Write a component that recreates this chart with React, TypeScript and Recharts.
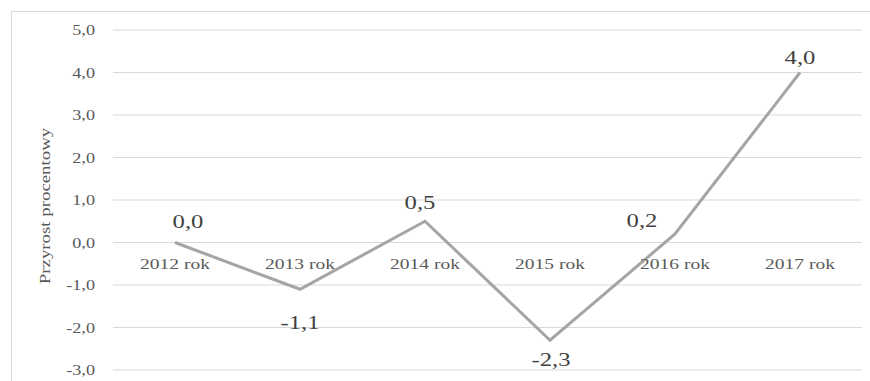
import { LineChart, Line, XAxis, YAxis, CartesianGrid } from 'recharts';

const categories = ['2012 rok', '2013 rok', '2014 rok', '2015 rok', '2016 rok', '2017 rok'];
const growth = [0.0, -1.1, 0.5, -2.3, 0.2, 4.0];
const yTicks = [-3, -2, -1, 0, 1, 2, 3, 4, 5];
const yAxisTitle = 'Przyrost procentowy';

const data = categories.map((year, i) => ({ year, value: growth[i] }));

const W = 870;
const H = 381;
const MARGIN = { top: 30, right: 8, bottom: 10, left: 0 };
const X_AXIS_H = 1;
const Y_MIN = -3;
const Y_MAX = 5;
const PLOT_H = H - MARGIN.top - MARGIN.bottom - X_AXIS_H;
// category labels sit just under the zero line, like in Excel
const ZERO_Y = MARGIN.top + ((Y_MAX - 0) / (Y_MAX - Y_MIN)) * PLOT_H;

const FONT = '"Liberation Serif", "Times New Roman", serif';
const SX = 1.3; // the source font is rendered wide

// per-label nudges (Excel placed them by hand-ish)
const labelNudge = [
  { dx: 13, dy: -15 },
  { dx: 0, dy: 40 },
  { dx: -5, dy: -12 },
  { dx: 1, dy: 26 },
  { dx: -33, dy: -7 },
  { dx: 0, dy: -9 },
];

const fmt = (v: number) => v.toFixed(1).replace('.', ',');

function WideText({ x, y, size, fill, anchor = 'middle', rotate, children }: any) {
  const t = `translate(${x} ${y})${rotate ? ` rotate(${rotate})` : ''} scale(${SX} 1)`;
  return (
    <text transform={t} textAnchor={anchor} fontFamily={FONT} fontSize={size} fill={fill}>
      {children}
    </text>
  );
}

function YTick(props: any) {
  const { x, y, payload } = props;
  return (
    <WideText x={x} y={y + 5} size={14} fill="#595959" anchor="end">
      {fmt(payload.value)}
    </WideText>
  );
}

function XTick(props: any) {
  const { x, payload } = props;
  return (
    <WideText x={x} y={ZERO_Y + 26} size={15} fill="#595959">
      {payload.value}
    </WideText>
  );
}

function PointLabel(props: any) {
  const { x, y, value, index } = props;
  const n = labelNudge[index] || { dx: 0, dy: -12 };
  return (
    <WideText x={x + n.dx} y={y + n.dy} size={19} fill="#404040">
      {fmt(value)}
    </WideText>
  );
}

export default function App() {
  return (
    <div style={{ position: 'absolute', left: 0, top: 0, width: W, height: H, overflow: 'hidden', background: '#fff' }}>
      <div
        style={{
          position: 'absolute',
          left: 11,
          top: 11,
          width: W + 20,
          height: H + 20,
          border: '1px solid #d9d9d9',
        }}
      />
      <div style={{ position: 'absolute', left: 0, top: 0 }}>
        <LineChart width={W} height={H} data={data} margin={MARGIN}>
          <CartesianGrid vertical={false} stroke="#d9d9d9" strokeWidth={1} />
          <XAxis
            dataKey="year"
            height={X_AXIS_H}
            axisLine={false}
            tickLine={false}
            padding={{ left: 62, right: 62 }}
            interval={0}
            tick={(p: any) => <XTick {...p} />}
          />
          <YAxis
            width={113}
            domain={[Y_MIN, Y_MAX]}
            ticks={yTicks}
            interval={0}
            axisLine={false}
            tickLine={false}
            tickSize={0}
            tickMargin={18}
            tick={(p: any) => <YTick {...p} />}
            label={() => (
              <WideText x={50} y={MARGIN.top + PLOT_H / 2 + 6} size={14.5} fill="#595959" rotate={-90}>
                {yAxisTitle}
              </WideText>
            )}
          />
          <Line
            type="linear"
            dataKey="value"
            stroke="#a5a5a5"
            strokeWidth={3}
            dot={false}
            isAnimationActive={false}
            label={(p: any) => <PointLabel {...p} />}
          />
        </LineChart>
      </div>
    </div>
  );
}
